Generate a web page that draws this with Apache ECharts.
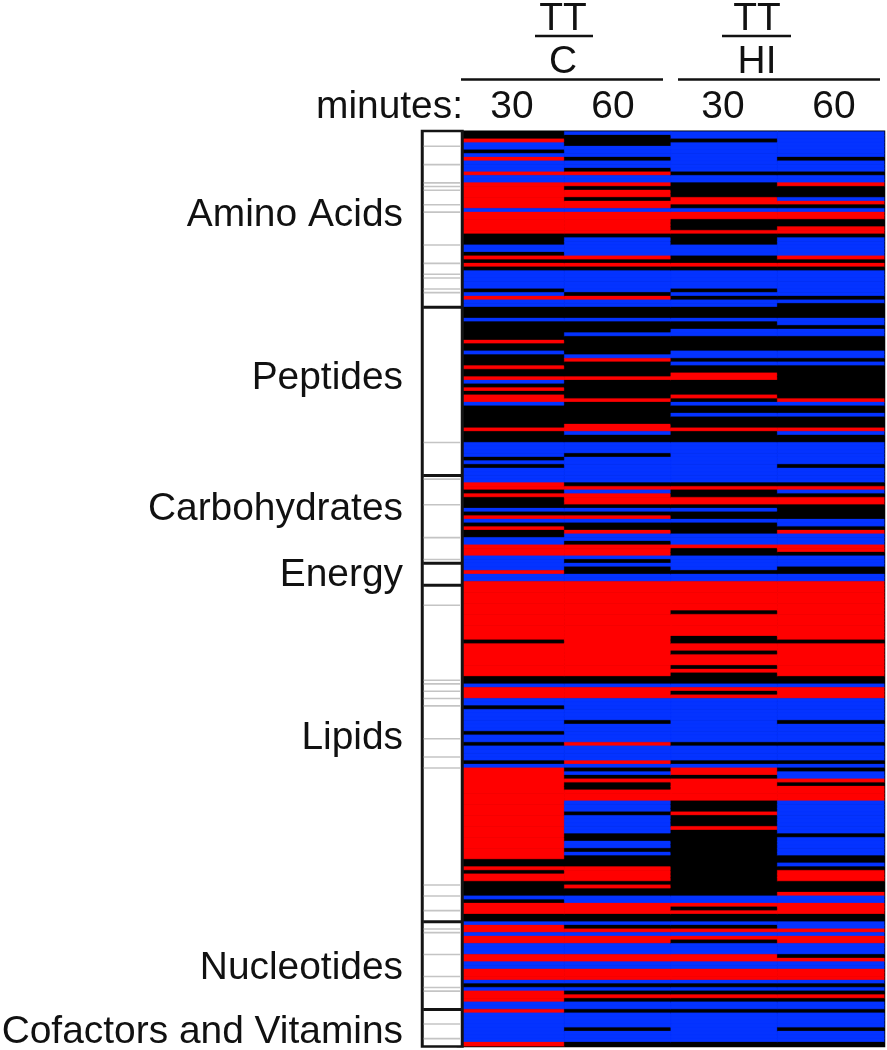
<!DOCTYPE html>
<html><head><meta charset="utf-8">
<style>html,body{margin:0;padding:0;background:#fff}#c{width:887px;height:1050px;filter:blur(0.5px)}</style>
<script src="https://cdn.jsdelivr.net/npm/echarts@6/dist/echarts.min.js"></script>
</head><body><div id="c"></div>
<script>
// Each column: "<first row><level>" runs, a run lasts until the next one. R = up, B = down, K = no change
const ttc30 = "0K 2R 3B 5K 6B 7R 8B 11R 12B 14R 21B 22R 28K 31B 33K 34R 35K 36R 37K 38B 43K 44B 45R 46B 48K 51B 52K 57R 58K 60B 61K 64R 65K 67R 68B 69K 70R 71K 72R 74B 75K 81R 82K 85B 89K 90B 91K 92B 96R 98K 99R 100K 103B 104K 105R 106B 107K 108R 109K 111B 113R 116B 120R 121B 123R 139K 140R 149K 151B 152R 155B 157K 158B 164K 165B 167K 168B 172K 173B 174R 199K 201R 202K 203R 205K 209B 210K 211R 214K 216B 217R 219B 220R 222B 225R 227B 229R 232B 233K 234B 235R 238B 240R 241B 249R";
const ttc60 = "0B 1K 4B 7K 8B 10K 11R 12B 14R 15K 16R 18K 19R 21B 22R 28K 29B 34R 35K 36R 37K 38B 44K 45R 46B 48K 51B 52K 55B 56K 61B 62R 63K 67R 68K 73R 74K 80R 82B 83K 85B 88K 89B 96K 97R 98B 99R 102K 103B 104K 105R 106B 107K 109R 110B 112K 113R 116B 117K 118B 119K 121B 123R 149K 151B 152R 155B 161K 162B 167R 168B 172R 173B 174K 175B 176K 177R 178K 180R 183B 186K 187B 192K 194B 196K 197B 198K 201R 205K 206R 207K 209B 211R 214K 216B 217K 218R 219B 220R 222B 225R 227B 229R 232B 233K 234B 235K 236R 237K 238B 240K 241B 245K 246B 249K";
const tth30 = "0B 2K 3B 11K 12B 14K 18R 20K 21B 22R 24K 27R 28K 31B 34K 36R 37K 38B 43K 44B 45K 46B 48K 51B 52K 54B 56K 60B 62K 63B 64K 66R 68K 72R 73K 74B 75K 77B 78K 81R 82K 85B 96K 97R 98K 100R 102K 103B 104K 106B 107K 110B 113R 114K 116B 120K 121B 123R 131K 132R 138K 140R 142K 143R 146K 147R 148K 151B 152R 153K 154R 155B 167K 168B 172K 173B 174R 176K 177R 183K 186R 187K 190R 191K 209B 211R 212K 213R 214K 216B 217K 218R 219B 220R 221K 222B 225R 227B 229R 232B 233K 234B 235K 236R 237K 238B 240K 241B 249K";
const tth60 = "0B 7K 8B 11K 12B 14R 15K 18B 19R 20K 21B 22R 24K 26R 28K 29B 34R 35K 36R 37K 38B 45K 46B 47K 51B 53K 54B 56K 60B 62K 63B 64K 73R 74B 75K 77B 78K 81R 82B 83K 85B 91K 92B 96K 97R 98B 99K 100R 102K 106B 108K 109R 110B 113R 115K 116B 119K 121B 123R 139K 140R 149K 151B 152R 155B 161K 162B 167K 168B 172K 173B 174K 175B 177R 178K 179R 183B 192K 193B 198K 200B 201K 202R 205K 208R 209B 211R 214K 216B 218R 219B 220R 222B 225K 226R 227B 229R 232B 233K 234B 235K 236R 237K 238B 240K 241B 245K 246B 249K";
const columnNames = ["TT/C 30", "TT/C 60", "TT/HI 30", "TT/HI 60"];
const rowCount = 250;
const classBoundaries = [48, 94, 118, 124, 216, 240];
const annotatedRows = [4, 9, 14, 15, 16, 20, 22, 31, 36, 39, 40, 43, 44, 85, 95, 102, 111, 117, 129.5, 150, 151, 153, 155, 157, 166, 171, 174, 206, 209, 213, 218, 219, 225, 231, 234, 235, 244, 248];
const classNames = ["Amino Acids", "Peptides", "Carbohydrates", "Energy", "Lipids", "Nucleotides", "Cofactors and Vitamins"];
const classLabelY = [215, 378, 509, 575, 738, 968, 1032];
const minuteLabels = ["30", "60", "30", "60"];
const minuteLabelX = [512, 613, 723, 834];

const levelValue = {R: 1, B: -1, K: 0};
const levelColor = {"1": "#ff0000", "-1": "#0433ff", "0": "#000000"};
function expand(runs) {
  const parts = runs.split(" ").map(s => [parseInt(s), levelValue[s.slice(-1)]]);
  const out = [];
  parts.forEach((p, i) => {
    const end = i + 1 < parts.length ? parts[i + 1][0] : rowCount;
    for (let r = p[0]; r < end; r++) out.push(p[1]);
  });
  return out;
}
const cells = [];
[ttc30, ttc60, tth30, tth60].forEach((col, x) => {
  expand(col).forEach((v, y) => {
    const color = levelColor[String(v)];
    cells.push({value: [x, y, v], itemStyle: {color, borderColor: color, borderWidth: 0.3}});
  });
});
const rows = Array.from({length: rowCount}, (_, i) => String(i));

const font = "Liberation Sans, Arial, sans-serif";
const fs = 38.9;
function txt(text, x, y, align) {
  return {type: "text", x, y, silent: true, style: {text, font: fs + "px " + font, fill: "#111", textAlign: align || "center", textVerticalAlign: "middle"}};
}
function ln(x1, x2, y, w) {
  return {type: "line", silent: true, shape: {x1, y1: y, x2, y2: y}, style: {stroke: "#111", lineWidth: w}};
}
const graphics = [
  txt("TT", 563, 19), ln(535, 593, 36, 2.5), txt("C", 563, 62), ln(461, 663, 79.5, 2.5),
  txt("TT", 757, 19), ln(722, 791, 36, 2.5), txt("HI", 757, 62), ln(678, 880, 79.5, 2.5),
  txt("minutes:", 463, 107, "right")
];
minuteLabels.forEach((t, i) => graphics.push(txt(t, minuteLabelX[i], 107)));
classNames.forEach((t, i) => graphics.push(txt(t, 403, classLabelY[i], "right")));

const chart = echarts.init(document.getElementById("c"), null, {renderer: "canvas"});
chart.setOption({
  animation: false,
  backgroundColor: "#fff",
  grid: [
    {left: 458, width: 426, top: 131.67, height: 914.3, show: true, backgroundColor: "#000", borderColor: "#000", borderWidth: 2.5},
    {left: 423, width: 38.5, top: 131.67, height: 914.3, show: false}
  ],
  xAxis: [
    {type: "category", gridIndex: 0, data: columnNames, show: false},
    {type: "value", gridIndex: 1, min: 0, max: 1, show: false}
  ],
  yAxis: [
    {type: "category", gridIndex: 0, data: rows, inverse: true, show: false},
    {type: "value", gridIndex: 1, min: 0, max: rowCount, inverse: true, show: false}
  ],
  series: [
    {type: "heatmap", xAxisIndex: 0, yAxisIndex: 0, data: cells, silent: true, progressive: 0, z: 2},
    {type: "scatter", xAxisIndex: 1, yAxisIndex: 1, symbol: "rect", symbolSize: [43, 918], silent: true, z: 3, clip: false,
     itemStyle: {color: "#141414", opacity: 1}, data: [[0.5, rowCount / 2]]},
    {type: "scatter", xAxisIndex: 1, yAxisIndex: 1, symbol: "rect", symbolSize: [37, 913], silent: true, z: 4, clip: false,
     itemStyle: {color: "#fff", opacity: 1}, data: [[0.5, rowCount / 2]]},
    {type: "scatter", xAxisIndex: 1, yAxisIndex: 1, symbol: "rect", symbolSize: [37, 1.6], silent: true, z: 5,
     itemStyle: {color: "#c4c4c4", opacity: 1}, data: annotatedRows.map(r => [0.5, r])},
    {type: "scatter", xAxisIndex: 1, yAxisIndex: 1, symbol: "rect", symbolSize: [38, 3], silent: true, z: 6,
     itemStyle: {color: "#141414", opacity: 1}, data: classBoundaries.map(r => [0.5, r])}
  ],
  graphic: graphics
});
</script></body></html>
